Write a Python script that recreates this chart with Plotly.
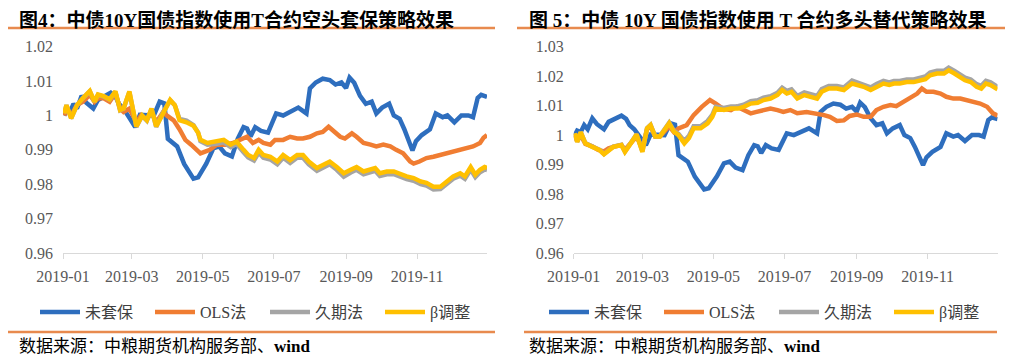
import pandas as pd
import plotly.graph_objects as go

# ---------------- data ----------------
start = pd.Timestamp("2019-01-01")

series_names = ["未套保", "OLS法", "久期法", "β调整"]
series_colors = ["#2E6EBE", "#F07D32", "#A5A5A5", "#FFC000"]

# 未套保 (unhedged index, same in both charts)
blue_days = [1, 3, 6, 9, 12, 16, 20, 26, 30, 35, 41, 45, 48, 52, 57, 62, 66, 72, 78, 83,
             87, 90, 95, 98, 104, 108, 112, 116, 123, 129, 134, 139, 145, 150, 155, 158, 161, 165, 170, 176,
             183, 189, 195, 202, 209, 212, 217, 223, 229, 234, 239, 243, 246, 250, 255, 260, 265, 269, 274, 280,
             284, 289, 293, 297, 300, 303, 308, 315, 320, 326, 330, 336, 342, 348, 352, 356, 359, 364]
blue_vals = [1.000, 1.0015, 1.001, 1.0034, 1.002, 1.0057, 1.0037, 1.002, 1.0045, 1.0054,
             1.0066, 1.0055, 1.0034, 1.002, 0.9995, 0.9966, 1.0002, 1.000, 1.000, 1.004,
             1.0035, 0.9932, 0.992, 0.991, 0.9859, 0.984, 0.9816, 0.982, 0.986, 0.9904,
             0.991, 0.989, 0.9881, 0.9932, 0.9966, 0.9962, 0.9939, 0.9966, 0.9955, 0.995,
             1.0006, 1.000, 1.001, 1.0023, 1.0006, 1.0079, 1.0096, 1.0107, 1.0103, 1.009,
             1.0096, 1.008, 1.011, 1.0095, 1.0057, 1.0034, 1.004, 1.0006, 1.0023, 1.0034,
             1.000, 0.999, 0.996, 0.9927, 0.9898, 0.9925, 0.9943, 0.996, 1.0006, 0.9995,
             1.000, 0.998, 1.000, 1.000, 0.9995, 1.0051, 1.006, 1.0054]

# Figure 4 (short hedge)
l_orange_days = [1, 3, 7, 12, 17, 23, 27, 30, 35, 40, 45, 49, 52, 57, 63, 67, 72, 76, 80, 86,
                 89, 95, 100, 105, 110, 118, 122, 126, 132, 140, 146, 152, 158, 163, 168, 172, 178, 182, 189, 195,
                 201, 206, 212, 218, 223, 228, 232, 238, 242, 248, 252, 258, 264, 269, 275, 281, 286, 292, 298, 301,
                 306, 312, 318, 324, 329, 335, 341, 347, 352, 358, 361, 364]
l_orange_vals = [1.000, 1.002, 1.000, 1.003, 1.004, 1.006, 1.004, 1.005, 1.005, 1.004,
                 1.0065, 1.002, 1.001, 1.002, 0.998, 1.000, 0.9988, 1.001, 0.998, 1.001,
                 1.000, 0.9986, 0.996, 0.9929, 0.9915, 0.989, 0.9895, 0.990, 0.9915, 0.9915,
                 0.992, 0.9929, 0.9938, 0.992, 0.9929, 0.992, 0.9915, 0.9929, 0.9929, 0.9938,
                 0.9933, 0.9933, 0.9938, 0.9948, 0.9952, 0.9967, 0.9955, 0.9938, 0.9933, 0.9948,
                 0.9938, 0.992, 0.9915, 0.991, 0.9915, 0.991, 0.990, 0.989, 0.9866, 0.986,
                 0.9866, 0.9876, 0.988, 0.9885, 0.989, 0.9895, 0.990, 0.9905, 0.991, 0.992,
                 0.9935, 0.9943]

l_ky_days = [1, 3, 7, 12, 17, 23, 27, 30, 35, 40, 45, 49, 52, 57, 63, 68, 72, 76, 80, 86,
             92, 96, 100, 106, 112, 116, 118, 124, 132, 138, 144, 149, 155, 159, 164, 168, 172, 178, 184, 189,
             195, 201, 206, 211, 218, 224, 229, 235, 241, 247, 252, 258, 264, 268, 272, 278, 284, 290, 295, 301,
             307, 312, 318, 324, 330, 335, 341, 345, 350, 354, 358, 362, 364]
l_gray_vals = [1.0006, 1.003, 0.9992, 1.003, 1.005, 1.007, 1.004, 1.006, 1.0055, 1.0046,
               1.0068, 1.0015, 1.002, 1.0068, 0.9967, 0.9999, 0.9985, 1.0019, 0.9967, 1.001,
               1.0044, 1.003, 0.999, 0.9985, 0.9972, 0.995, 0.9925, 0.9915, 0.9918, 0.9922,
               0.9908, 0.9917, 0.9893, 0.9878, 0.9869, 0.9892, 0.9877, 0.9872, 0.9858, 0.9877,
               0.9862, 0.9877, 0.9877, 0.9858, 0.9839, 0.9849, 0.9858, 0.9842, 0.9822, 0.9834,
               0.9842, 0.9829, 0.9834, 0.9839, 0.9824, 0.9829, 0.9829, 0.982, 0.9815, 0.981,
               0.980, 0.9796, 0.9785, 0.9786, 0.9801, 0.9816, 0.9825, 0.9816, 0.9843, 0.9821,
               0.9835, 0.9843, 0.9841]
l_yellow_vals = [1.0006, 1.003, 0.9992, 1.003, 1.005, 1.0071, 1.004, 1.0061, 1.0056, 1.0047,
                 1.007, 1.0016, 1.002, 1.007, 0.9968, 1.000, 0.9986, 1.002, 0.9968, 1.001,
                 1.0045, 1.003, 0.9986, 0.998, 0.997, 0.995, 0.9929, 0.992, 0.9924, 0.9929,
                 0.9915, 0.9924, 0.990, 0.9885, 0.9876, 0.990, 0.9885, 0.988, 0.9866, 0.9885,
                 0.987, 0.9885, 0.9885, 0.9866, 0.9847, 0.9857, 0.9866, 0.985, 0.9832, 0.9842,
                 0.985, 0.9837, 0.9842, 0.9847, 0.9832, 0.9837, 0.9837, 0.9828, 0.9823, 0.9818,
                 0.9808, 0.9804, 0.9793, 0.9793, 0.9808, 0.9823, 0.9832, 0.9823, 0.985, 0.9828,
                 0.9842, 0.985, 0.9848]

# Figure 5 (long substitution)
r_orange_days = [1, 3, 6, 10, 16, 21, 26, 30, 34, 41, 44, 49, 54, 59, 63, 66, 70, 74, 77, 82,
                 86, 90, 97, 103, 110, 117, 122, 128, 135, 140, 146, 152, 157, 163, 169, 175, 180, 186, 192, 200,
                 209, 215, 220, 226, 232, 237, 243, 249, 255, 260, 266, 272, 277, 283, 289, 295, 299, 303, 309, 315,
                 320, 326, 332, 338, 344, 349, 355, 360, 364]
r_orange_vals = [1.000, 0.998, 1.000, 0.997, 0.9962, 0.995, 0.9945, 0.9955, 0.996, 0.9966,
                 0.995, 0.997, 0.9995, 0.9955, 1.002, 1.003, 0.9995, 0.9995, 1.001, 1.003,
                 1.001, 1.0023, 1.0034, 1.0068, 1.0096, 1.0119, 1.0107, 1.009, 1.0085, 1.0096,
                 1.0085, 1.0074, 1.0079, 1.0085, 1.009, 1.0085, 1.0079, 1.0085, 1.0074, 1.0078,
                 1.0074, 1.0068, 1.0062, 1.0048, 1.005, 1.0065, 1.007, 1.0062, 1.0062, 1.0085,
                 1.0096, 1.0102, 1.0098, 1.0113, 1.013, 1.0141, 1.0158, 1.0147, 1.0147, 1.0141,
                 1.013, 1.0124, 1.0124, 1.0119, 1.0113, 1.0107, 1.0096, 1.0074, 1.0066]

r_ky_days = [1, 3, 6, 10, 16, 22, 26, 30, 34, 41, 44, 49, 54, 59, 63, 66, 70, 74, 77, 82,
             86, 90, 95, 99, 103, 109, 115, 119, 122, 129, 135, 141, 146, 152, 158, 163, 169, 175, 179, 183,
             187, 192, 198, 203, 209, 213, 219, 226, 232, 239, 244, 249, 255, 260, 266, 271, 275, 280, 286, 292,
             298, 302, 306, 312, 318, 322, 327, 332, 336, 341, 346, 350, 354, 358, 362, 364]
r_gray_vals = [1.0006, 0.9978, 1.001, 0.9973, 0.9961, 0.9951, 0.9936, 0.9951, 0.9961, 0.9967,
               0.9944, 0.9973, 1.0003, 0.9945, 1.0024, 1.0035, 0.9996, 0.9997, 1.0014, 1.0042,
               1.0015, 1.0004, 0.998, 0.9998, 1.003, 1.003, 1.0048, 1.0069, 1.0096, 1.0092,
               1.0097, 1.0098, 1.0103, 1.0115, 1.0118, 1.0127, 1.0132, 1.0144, 1.0161, 1.015,
               1.0155, 1.0133, 1.0145, 1.0139, 1.0133, 1.0156, 1.0167, 1.0167, 1.0162, 1.0185,
               1.0179, 1.0173, 1.0162, 1.0173, 1.0184, 1.0179, 1.0184, 1.0184, 1.0189, 1.0189,
               1.0195, 1.0199, 1.0212, 1.0218, 1.0218, 1.0229, 1.0218, 1.0207, 1.0195, 1.0189,
               1.0173, 1.0167, 1.0184, 1.0179, 1.0167, 1.0164]
r_yellow_vals = [1.0006, 0.9977, 1.001, 0.9972, 0.996, 0.995, 0.9935, 0.995, 0.996, 0.9966,
                 0.9943, 0.9972, 1.0002, 0.9943, 1.0023, 1.0034, 0.9995, 0.9995, 1.0012, 1.004,
                 1.0012, 1.000, 0.9972, 0.999, 1.0023, 1.0023, 1.004, 1.0062, 1.009, 1.0085,
                 1.009, 1.009, 1.0096, 1.0107, 1.011, 1.0119, 1.0124, 1.0136, 1.0153, 1.0141,
                 1.0147, 1.0124, 1.0136, 1.013, 1.0124, 1.0147, 1.0158, 1.0158, 1.0153, 1.0175,
                 1.017, 1.0164, 1.0153, 1.0164, 1.0175, 1.017, 1.0175, 1.0175, 1.018, 1.018,
                 1.0186, 1.019, 1.0203, 1.0209, 1.0209, 1.022, 1.0209, 1.0198, 1.0186, 1.018,
                 1.0164, 1.0158, 1.0175, 1.017, 1.0158, 1.0155]

x_tick_vals = ["2019-01-01", "2019-03-01", "2019-05-01", "2019-07-01", "2019-09-01", "2019-11-01"]
x_tick_text = ["2019-01", "2019-03", "2019-05", "2019-07", "2019-09", "2019-11"]
l_y_ticks = [0.96, 0.97, 0.98, 0.99, 1.00, 1.01, 1.02]
l_y_text = ["0.96", "0.97", "0.98", "0.99", "1", "1.01", "1.02"]
r_y_ticks = [0.96, 0.97, 0.98, 0.99, 1.00, 1.01, 1.02, 1.03]
r_y_text = ["0.96", "0.97", "0.98", "0.99", "1", "1.01", "1.02", "1.03"]

title_left = "<b>图4：中债10Y国债指数使用T合约空头套保策略效果</b>"
title_right = "<b>图 5：中债 10Y 国债指数使用 T 合约多头替代策略效果</b>"
source_text = "数据来源：中粮期货机构服务部、<b>wind</b>"


def to_dates(days):
    return [start + pd.Timedelta(days=d) for d in days]


W, H = 1014, 359
OX, OY = 8, 8  # default page (body) margin offset


def px(x):
    return (x - OX) / W


def py(y):
    return 1 - (y - OY) / H


fig = go.Figure()

left_sets = [(blue_days, blue_vals), (l_orange_days, l_orange_vals),
             (l_ky_days, l_gray_vals), (l_ky_days, l_yellow_vals)]
right_sets = [(blue_days, blue_vals), (r_orange_days, r_orange_vals),
              (r_ky_days, r_gray_vals), (r_ky_days, r_yellow_vals)]

for i, (d, v) in enumerate(left_sets):
    fig.add_trace(go.Scatter(x=to_dates(d), y=v, mode="lines", name=series_names[i],
                             line=dict(color=series_colors[i], width=4.5),
                             xaxis="x", yaxis="y", legend="legend"))
for i, (d, v) in enumerate(right_sets):
    fig.add_trace(go.Scatter(x=to_dates(d), y=v, mode="lines", name=series_names[i],
                             line=dict(color=series_colors[i], width=4.5),
                             xaxis="x2", yaxis="y2", legend="legend2"))

tick_font = dict(family="Liberation Serif, Noto Sans CJK SC", size=16, color="#595959")
ydom = [py(253), py(46.7)]

xcommon = dict(type="date", range=["2019-01-01", "2019-12-31"], tickvals=x_tick_vals,
               ticktext=x_tick_text, showline=True, linecolor="#D9D9D9", linewidth=1,
               ticks="outside", ticklen=5, tickcolor="#D9D9D9", showgrid=False,
               zeroline=False, tickfont=tick_font, ticklabelstandoff=4, automargin=False)
ycommon = dict(showline=False, showgrid=False, zeroline=False, ticks="",
               tickfont=tick_font, ticklabelstandoff=9, automargin=False)

fig.update_layout(
    width=W, height=H, margin=dict(l=0, r=0, t=0, b=0, autoexpand=False),
    paper_bgcolor="white", plot_bgcolor="white",
    xaxis=dict(domain=[px(63), px(487)], anchor="y", **xcommon),
    yaxis=dict(domain=ydom, anchor="x", range=[0.96, 1.02], tickvals=l_y_ticks,
               ticktext=l_y_text, **ycommon),
    xaxis2=dict(domain=[px(573.7), px(573.7 + 364 * 1.1645)], anchor="y2", **xcommon),
    yaxis2=dict(domain=ydom, anchor="x2", range=[0.96, 1.03], tickvals=r_y_ticks,
                ticktext=r_y_text, **ycommon),
    showlegend=True,
)

leg_common = dict(orientation="h", xanchor="left", yanchor="middle", y=py(312),
                  entrywidthmode="pixels", entrywidth=60, itemwidth=40, bgcolor="rgba(0,0,0,0)",
                  font=dict(family="Liberation Serif, Noto Sans CJK SC", size=16, color="#404040"),
                  traceorder="normal", itemclick=False, itemdoubleclick=False)
fig.update_layout(legend=dict(x=px(35), **leg_common), legend2=dict(x=px(544), **leg_common))

ann_font_title = dict(family="Liberation Serif, Noto Sans CJK SC", size=19, color="#000000")
ann_font_src = dict(family="Liberation Serif, Noto Sans CJK SC", size=17, color="#000000")
fig.add_annotation(x=px(17), y=py(20), xref="paper", yref="paper", text=title_left,
                   showarrow=False, xanchor="left", yanchor="middle", font=ann_font_title)
fig.add_annotation(x=px(527), y=py(20), xref="paper", yref="paper", text=title_right,
                   showarrow=False, xanchor="left", yanchor="middle", font=ann_font_title)
fig.add_annotation(x=px(17), y=py(346), xref="paper", yref="paper", text=source_text,
                   showarrow=False, xanchor="left", yanchor="middle", font=ann_font_src)
fig.add_annotation(x=px(527), y=py(346), xref="paper", yref="paper", text=source_text,
                   showarrow=False, xanchor="left", yanchor="middle", font=ann_font_src)

rule_color = "#E88A4E"
for (x0, x1, yy) in [(5, 495, 28), (517, 1005, 28), (5, 495, 332), (524, 997, 332)]:
    fig.add_shape(type="line", xref="paper", yref="paper", x0=px(x0), x1=px(x1),
                  y0=py(yy), y1=py(yy), line=dict(color=rule_color, width=2.5))

fig.write_html("out.html")
